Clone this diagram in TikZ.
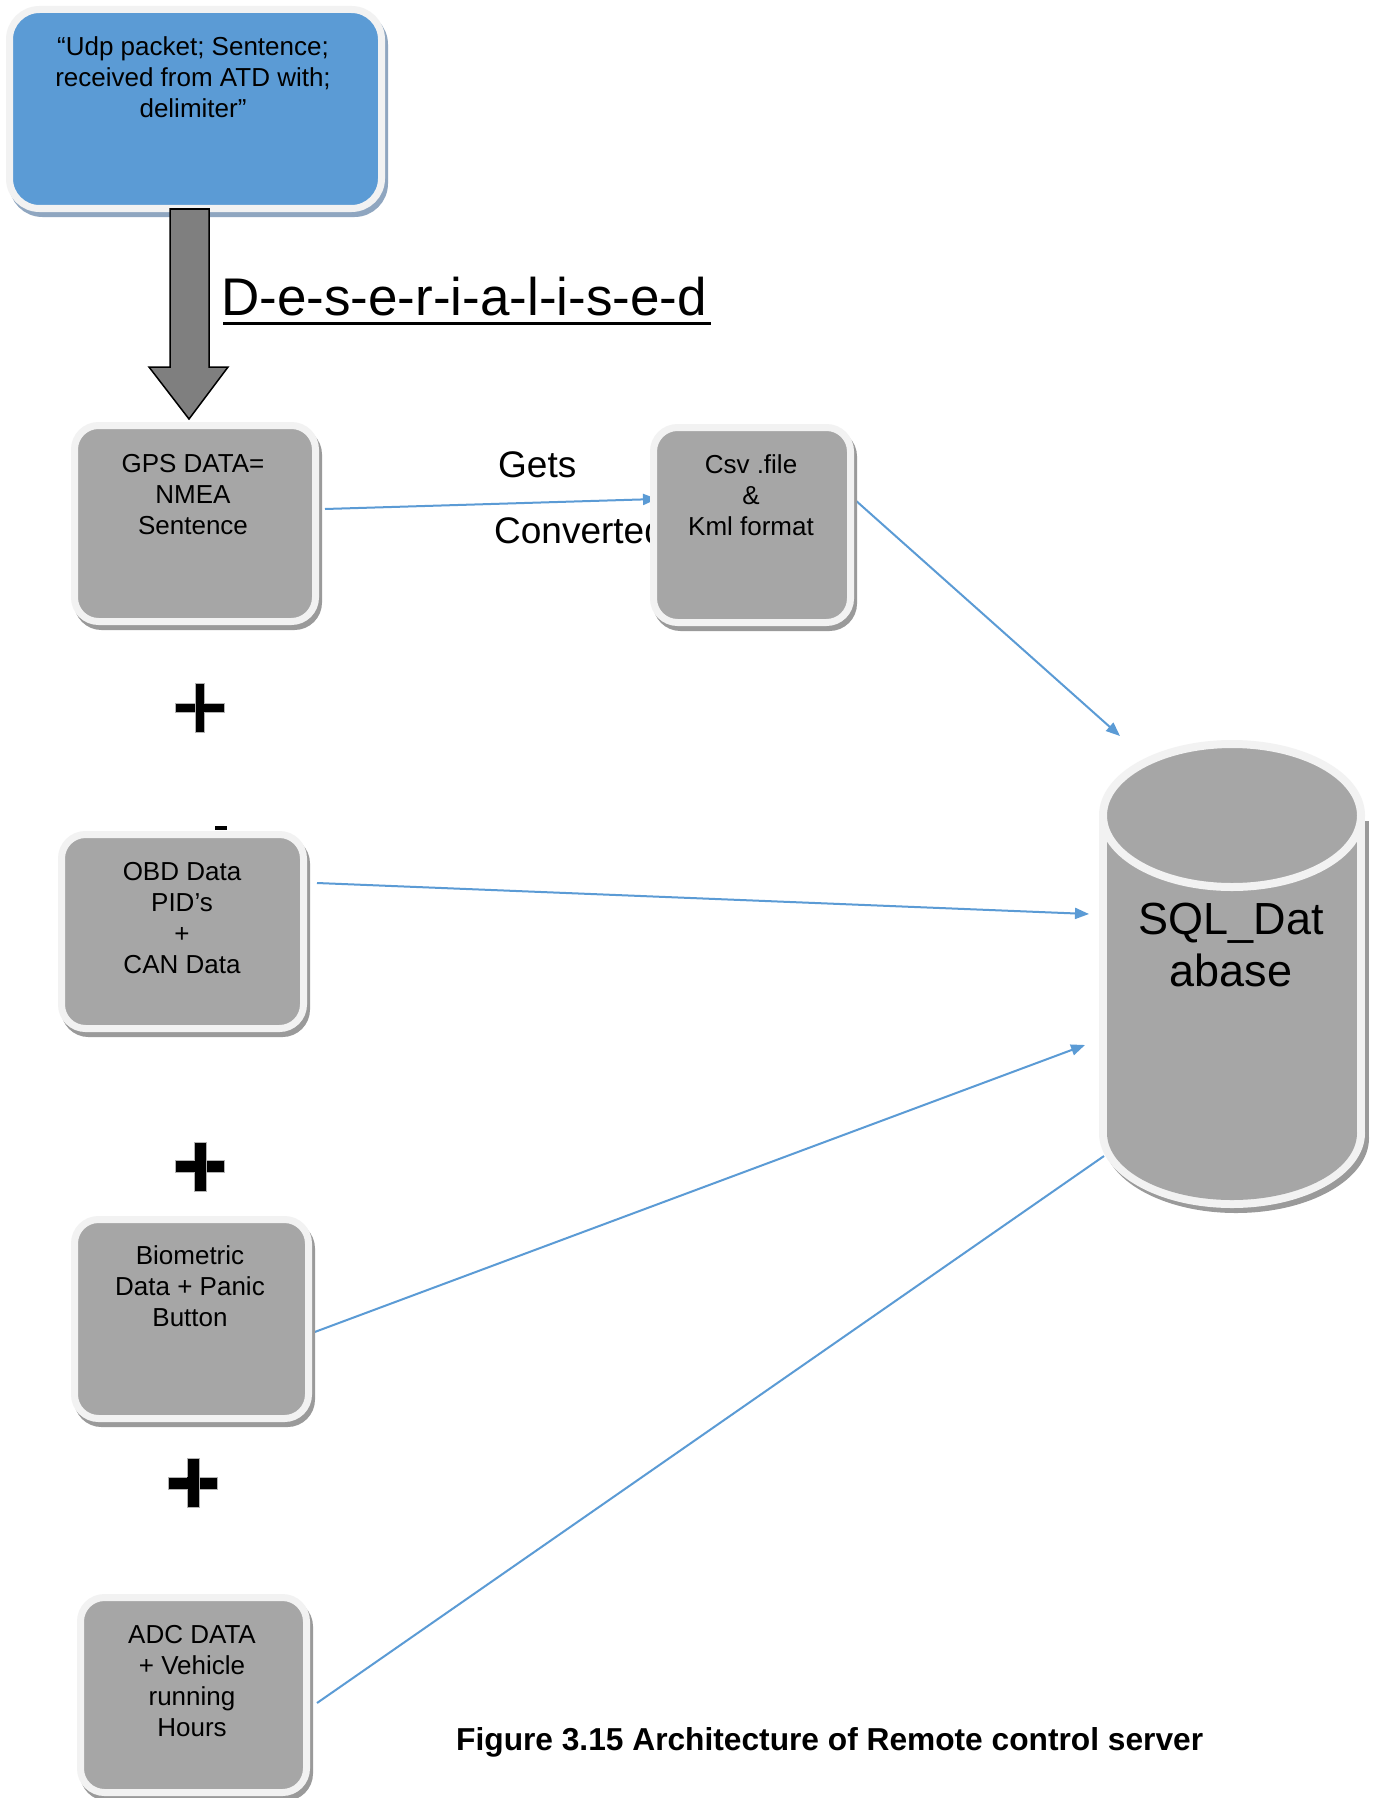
\documentclass[tikz,border=0pt]{standalone}
\usepackage{fontspec}
\setmainfont{Liberation Sans}
\usetikzlibrary{arrows.meta,shadows,calc}

\definecolor{boxgray}{HTML}{A6A6A6}
\definecolor{boxblue}{HTML}{5B9BD5}
\definecolor{rim}{HTML}{F2F2F2}
\definecolor{linkblue}{HTML}{5B9BD5}
\definecolor{shadowgray}{HTML}{9A9A9A}
\definecolor{blueshadow}{HTML}{8FA6C0}
\definecolor{arrowgray}{HTML}{7F7F7F}

\pgfdeclarelayer{bg}
\pgfdeclarelayer{back}
\pgfsetlayers{bg,back,main}

\begin{document}
\begin{tikzpicture}[x=1pt,y=-1pt,
  card/.style={rectangle, rounded corners=24pt, fill=boxgray, draw=rim,
    line width=7pt, inner sep=0pt,
    drop shadow={shadow xshift=3pt, shadow yshift=-5pt, fill=#1, draw=#1,
      line width=7pt, opacity=1}},
  card/.default=shadowgray,
  cardtext/.style={anchor=north, inner sep=0pt, align=center,
    font=\fontsize{26}{31}\selectfont},
  label/.style={anchor=base west, inner sep=0pt, font=\fontsize{37}{44}\selectfont},
  link/.style={draw=linkblue, line width=2pt, -{Triangle[length=14pt,width=11pt]}},
  plain link/.style={draw=linkblue, line width=2pt},
  plusbar/.style={fill=black, draw=gray!60, line width=0.5pt},
]
\useasboundingbox (0,0) rectangle (1375,1798);
\begin{pgfonlayer}{bg}
  \fill[white] (0,0) rectangle (1375,1798);
\end{pgfonlayer}

% ---- boxes ----
\node[card=blueshadow, fill=boxblue, rounded corners=30pt,
      minimum width=372pt, minimum height=199pt] (udp) at (195.5,109) {};
\node[cardtext] (udp-t) at (193,34)
  {\rule{0pt}{21pt}“Udp packet; Sentence;\\received from ATD with;\\delimiter”};

\node[card, minimum width=241pt, minimum height=196pt] (gps) at (195,523.5) {};
\node[cardtext] (gps-t) at (193,451) {\rule{0pt}{21pt}GPS DATA=\\NMEA\\Sentence};

\node[card, minimum width=197pt, minimum height=195pt] (csv) at (752,525) {};
\node[cardtext] (csv-t) at (751,452) {\rule{0pt}{21pt}Csv .file\\\&\\Kml format};

\node[card, minimum width=242pt, minimum height=194pt] (obd) at (182.5,931.5) {};
\node[cardtext] (obd-t) at (182,859) {\rule{0pt}{21pt}OBD Data\\PID’s\\+\\CAN Data};

\node[card, minimum width=234pt, minimum height=199pt] (bio) at (191.5,1319) {};
\node[cardtext] (bio-t) at (190,1243) {\rule{0pt}{21pt}Biometric\\Data + Panic\\Button};

\node[card, minimum width=226pt, minimum height=195pt] (adc) at (193.5,1695) {};
\node[cardtext] (adc-t) at (192,1622) {\rule{0pt}{21pt}ADC DATA\\+ Vehicle\\running\\Hours};

% ---- database cylinder ----
\begin{scope}[shift={(4,5)}]
  \fill[shadowgray] (1099,815.5) rectangle (1365,1133);
  \fill[shadowgray] (1232,1133) ellipse [x radius=133pt, y radius=75pt];
\end{scope}
\fill[rim] (1099,815.5) rectangle (1365,1133);
\fill[rim] (1232,1133) ellipse [x radius=133pt, y radius=75pt];
\fill[boxgray] (1107,815.5) rectangle (1357,1133);
\fill[boxgray] (1232,1133) ellipse [x radius=125pt, y radius=67pt];
\draw[fill=boxgray, draw=rim, line width=8pt]
  (1232,815.5) ellipse [x radius=129pt, y radius=71.5pt];
\node[cardtext, font=\fontsize{45}{52}\selectfont] (sql-t) at (1231,898)
  {\rule{0pt}{36pt}SQL\_Dat\\abase};
\coordinate (sql-a) at (1120,736);
\coordinate (sql-b) at (1089,914);
\coordinate (sql-c) at (1085,1045);
\coordinate (sql-d) at (1104,1156);

% ---- block arrow between the top box and the GPS box ----
\draw[fill=arrowgray, draw=black, line width=1.5pt, line join=miter]
  (170,209) -- (209,209) -- (209,367) -- (228,367) -- (189,419)
  -- (149,367) -- (170,367) -- cycle;

\node[anchor=base west, inner sep=0pt, font=\fontsize{53}{60}\selectfont]
  (deser) at (221,315) {D-e-s-e-r-i-a-l-i-s-e-d};
\draw[line width=3.3pt] ([shift={(2,8.3)}]deser.base west)
  -- ([shift={(4,8.3)}]deser.base east);

% ---- connectors (kept behind the boxes) ----
\begin{pgfonlayer}{back}
  \node[label] (gets) at (498,477) {Gets};
  \node[label] (conv) at (494,543) {Converted};
  \draw[link] ([shift={(6,-14.5)}]gps.east) -- ([shift={(7,-26)}]csv.west);
  \draw[link] ([shift={(0,-26)}]csv.east) -- (sql-a);
  \draw[link] ([shift={(10,-48.5)}]obd.east) -- (sql-b);
  \draw[link] ([shift={(0,14)}]bio.east) -- (sql-c);
  \draw[plain link] ([shift={(7,8)}]adc.east) -- (sql-d);
\end{pgfonlayer}

% ---- plus signs ----
\draw[plusbar] (175.5,703.5) rectangle (224.5,712.5);
\draw[plusbar] (195.5,683.5) rectangle (204.5,732.5);
\fill (195.5,703.9) rectangle (204.5,712.1);

\draw[plusbar] (175.5,1160.5) rectangle (224.5,1172.5);
\draw[plusbar] (194,1142) rectangle (206,1191);
\fill (194,1160.9) rectangle (206,1172.1);

\draw[plusbar] (168.5,1477) rectangle (217.5,1489);
\draw[plusbar] (187,1458.5) rectangle (199,1507.5);
\fill (187,1477.4) rectangle (199,1488.6);

% small stray dash above the OBD box
\fill (215,826) rectangle (227,829.5);

% ---- caption ----
\node[anchor=base west, inner sep=0pt, font=\bfseries\fontsize{31.7}{38}\selectfont]
  (caption) at (456,1750) {Figure 3.15 Architecture of Remote control server};
\end{tikzpicture}
\end{document}
